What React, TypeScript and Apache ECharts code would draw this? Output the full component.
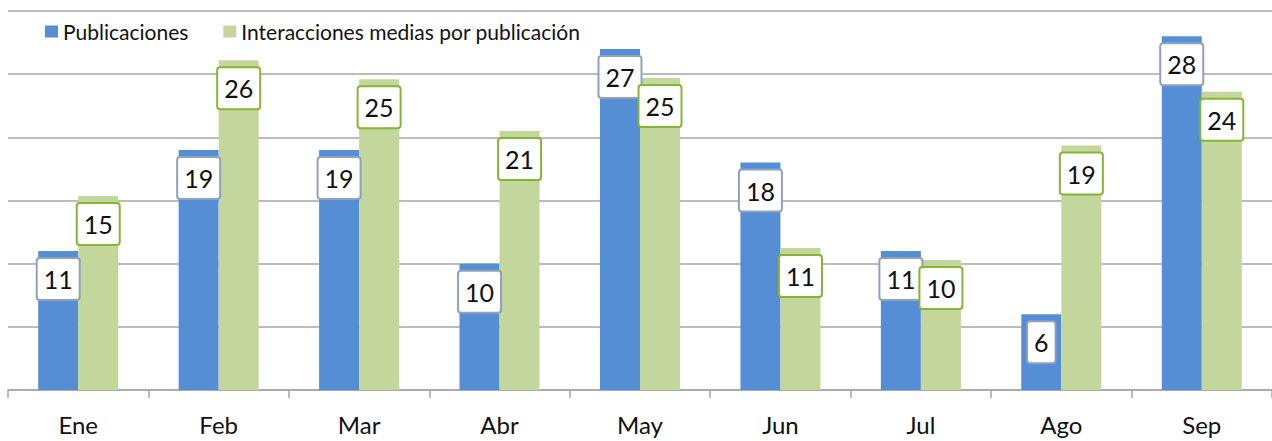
import React, { useEffect, useRef } from "react";
import * as echarts from "echarts";

const categories = ["Ene", "Feb", "Mar", "Abr", "May", "Jun", "Jul", "Ago", "Sep"];
const publicaciones = [11, 19, 19, 10, 27, 18, 11, 6, 28];
const interacciones = [15.35, 26.1, 24.6, 20.5, 24.7, 11.25, 10.3, 19.35, 23.6];
const seriesNames = ["Publicaciones", "Interacciones medias por publicación"];

const FONT = "Lato";

function labelStyle(border: string) {
  return {
    show: true,
    position: "insideTop" as const,
    distance: 8,
    fontFamily: FONT,
    fontSize: 25,
    lineHeight: 28,
    color: "#111",
    backgroundColor: "#fff",
    borderColor: border,
    borderWidth: 2,
    borderRadius: 2,
    padding: [6, 6, 6, 6],
    formatter: (p: any) => String(Math.round(p.value)),
  };
}

export default function App() {
  const ref = useRef<HTMLDivElement>(null);
  useEffect(() => {
    document.body.style.margin = "0";
    const chart = echarts.init(ref.current!, null, { renderer: "svg" });
    chart.setOption({
      animation: false,
      textStyle: { fontFamily: FONT },
      legend: {
        left: 45,
        top: 21,
        padding: 0,
        itemWidth: 13,
        itemHeight: 12,
        itemGap: 35,
        icon: "rect",
        textStyle: { fontFamily: FONT, fontSize: 21, color: "#111" },
        data: seriesNames,
      },
      grid: { left: 8, right: 0, top: 11, bottom: 51, containLabel: false },
      xAxis: {
        type: "category",
        data: categories,
        axisLine: { lineStyle: { color: "#a6a6a6", width: 1.5 } },
        axisTick: { show: true, length: 8, lineStyle: { color: "#a6a6a6", width: 1.5 } },
        axisLabel: { fontFamily: FONT, fontSize: 24, color: "#111", margin: 22 },
      },
      yAxis: {
        type: "value",
        min: 0,
        max: 30,
        interval: 5,
        axisLabel: { show: false },
        axisLine: { show: false },
        axisTick: { show: false },
        splitLine: { lineStyle: { color: "#a6a6a6", width: 1.5 } },
      },
      series: [
        {
          name: seriesNames[0],
          type: "bar",
          data: publicaciones,
          barGap: "0%",
          barCategoryGap: "43%",
          itemStyle: { color: "#558ed5" },
          label: labelStyle("#8ea1bd"),
        },
        {
          name: seriesNames[1],
          type: "bar",
          data: interacciones,
          itemStyle: { color: "#c3d69b" },
          label: labelStyle("#86b433"),
        },
      ],
    });
    return () => chart.dispose();
  }, []);
  return <div ref={ref} style={{ width: 1272, height: 441 }} />;
}
